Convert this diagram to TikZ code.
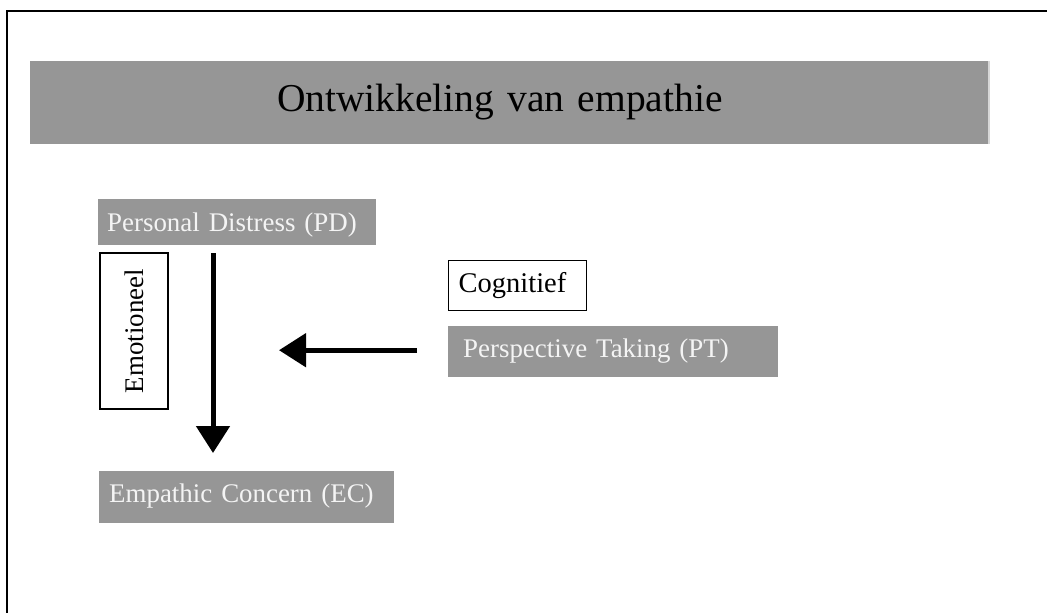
\documentclass[tikz,border=0pt]{standalone}
\usepackage{fontspec}
\setmainfont{Liberation Serif}
\usetikzlibrary{arrows.meta}
\definecolor{boxgray}{RGB}{150,150,150}
\definecolor{boxtext}{RGB}{244,244,244}
\definecolor{edgegray}{RGB}{215,215,215}
\newcommand{\boxfont}{\fontsize{26.9}{32}\selectfont}
\newcommand{\cogfont}{\fontsize{28.5}{32}\selectfont}
\newcommand{\titlefont}{\fontsize{39.5}{47}\selectfont}
\tikzset{
  graybox/.style={fill=boxgray, text=boxtext, inner ysep=0pt, anchor=north west, align=left, font=\boxfont},
  whitebox/.style={draw=black, line width=1.3pt, fill=white, text=black, inner ysep=0pt, font=\boxfont},
  bigarrow/.style={line width=5pt, -{Triangle[width=33pt,length=27pt]}},
  framepen/.style={line width=2pt, draw=black}
}
\begin{document}
\begin{tikzpicture}[x=1pt,y=-1pt]
\useasboundingbox (0,0) rectangle (1047,613);
% frame
\draw[framepen] (7,613) -- (7,11) -- (1047,11);
% title bar
\node[graybox, text=black, font=\titlefont, inner xsep=247pt, text width=464pt,
      text height=50pt, text depth=33pt] (title) at (30,61) {Ontwikkeling van empathie};
\draw[edgegray, line width=2pt] ([xshift=1pt]title.north east) -- ([xshift=1pt]title.south east);
% boxes
\node[graybox, inner xsep=9pt, text width=260pt, text height=32pt, text depth=14pt] (PD) at (98,199) {Personal Distress (PD)};
\node[graybox, inner xsep=10pt, text width=275pt, text height=31pt, text depth=21pt] (EC) at (99,471) {Empathic Concern (EC)};
\node[graybox, inner xsep=15pt, text width=300pt, text height=31pt, text depth=20pt] (PT) at (448,326) {Perspective Taking (PT)};
\node[whitebox, font=\cogfont, anchor=north west, align=left, inner xsep=10pt, text width=118pt, text height=32pt, text depth=18pt] (COG) at (448,260) {Cognitief};
\node[whitebox, rotate=90, minimum width=156pt, minimum height=68pt, inner sep=0pt] (EMO) at (134,331) {Emotioneel};
% arrows
\coordinate (vx) at (213,0);
\coordinate (hx) at (279,0);
\draw[bigarrow, shorten <=8pt, shorten >=18pt] (PD.south -| vx) -- (EC.north -| vx);
\draw[bigarrow, shorten <=31pt] ([yshift=1.5pt]PT.west) -- ([yshift=1.5pt]PT.west -| hx);
\end{tikzpicture}
\end{document}
